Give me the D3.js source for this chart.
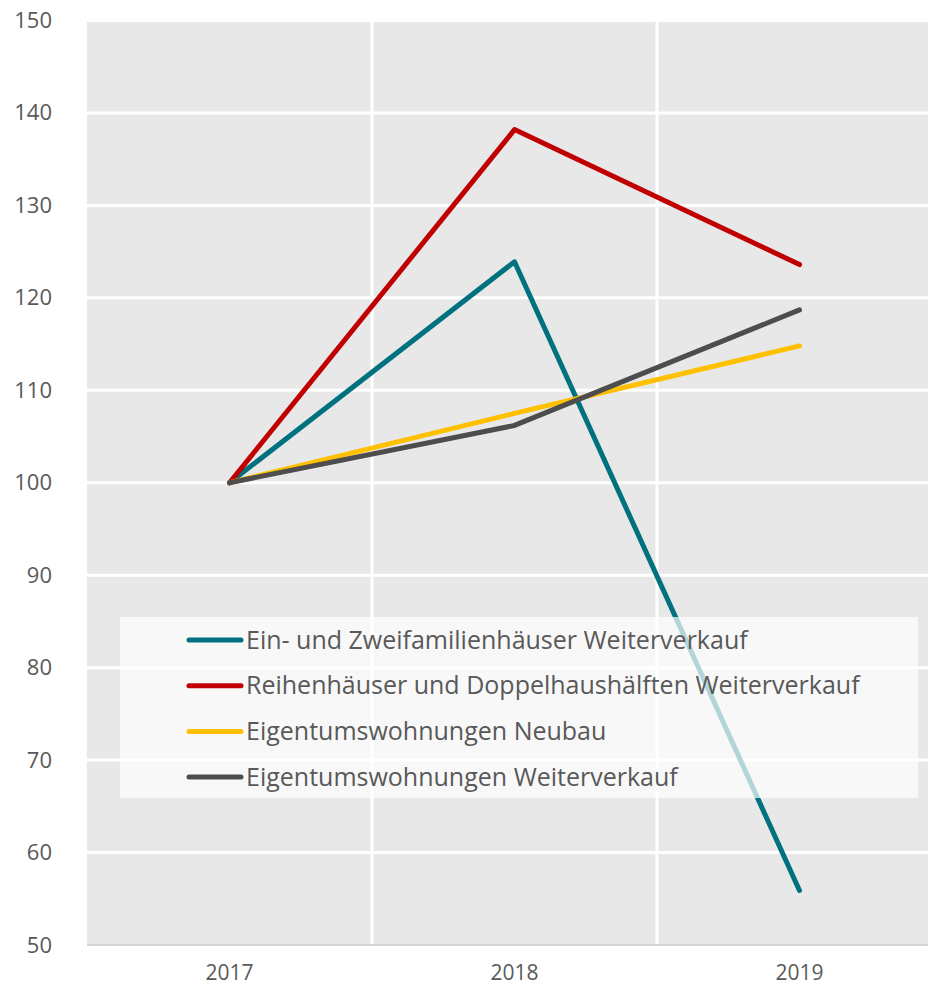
<!DOCTYPE html>
<html><head><meta charset="utf-8">
<script src="https://cdn.jsdelivr.net/npm/d3@7"></script>
<style>body{margin:0;background:#fff}svg{display:block}</style>
</head><body>
<svg id="c" width="928" height="991"></svg>
<script>
const years = ["2017","2018","2019"];
const seriesNames = [
  "Ein- und Zweifamilienhäuser Weiterverkauf",
  "Reihenhäuser und Doppelhaushälften Weiterverkauf",
  "Eigentumswohnungen Neubau",
  "Eigentumswohnungen Weiterverkauf"
];
const einZwei = [100, 123.9, 55.9];
const reihen = [100, 138.2, 123.6];
const etwNeu = [100, 107.5, 114.8];
const etwWeiter = [100, 106.2, 118.7];
const colors = ["#00717f", "#c00000", "#ffc000", "#4d4d4d"];
const yTicks = [50,60,70,80,90,100,110,120,130,140,150];

const values = [einZwei, reihen, etwNeu, etwWeiter];
const font = "'Open Sans', 'Noto Sans', sans-serif";
const svg = d3.select("#c");
const L = 87, R = 942, T = 20.5, B = 945;
const x = d3.scaleBand().domain(years).range([L, R]);
const y = d3.scaleLinear().domain([50,150]).range([B, T]);

svg.append("rect").attr("x", L).attr("y", T).attr("width", 928 - L).attr("height", B - T).attr("fill", "#e8e8e8");

svg.append("g").selectAll("line").data(yTicks.slice(1)).join("line")
  .attr("x1", L).attr("x2", 928).attr("y1", d => y(d)).attr("y2", d => y(d))
  .attr("stroke", "#fff").attr("stroke-width", 3);
svg.append("g").selectAll("line").data(years.slice(1)).join("line")
  .attr("x1", d => x(d)).attr("x2", d => x(d)).attr("y1", T).attr("y2", B)
  .attr("stroke", "#fff").attr("stroke-width", 3);
svg.append("line").attr("x1", L).attr("x2", 928).attr("y1", B).attr("y2", B)
  .attr("stroke", "#d6d6d6").attr("stroke-width", 2);

const yAxis = d3.axisLeft(y).tickValues(yTicks).tickSize(0).tickPadding(0);
const gy = svg.append("g").attr("transform", `translate(52,0)`).call(yAxis);
gy.select(".domain").remove();
gy.selectAll("text").attr("font-family", font).attr("font-size", 22).attr("fill", "#595959").attr("dy", "0.32em");

const xAxis = d3.axisBottom(x).tickSize(0).tickPadding(0);
const gx = svg.append("g").attr("transform", `translate(0,${B + 20})`).call(xAxis);
gx.select(".domain").remove();
gx.selectAll("text").attr("font-family", font).attr("font-size", 21).attr("fill", "#595959").attr("dy", "0.71em");

const line = d3.line().x((d, i) => x(years[i]) + x.bandwidth() / 2).y(d => y(d));
svg.append("g").selectAll("path").data(values).join("path")
  .attr("d", d => line(d)).attr("fill", "none")
  .attr("stroke", (d, i) => colors[i]).attr("stroke-width", 5)
  .attr("stroke-linecap", "round").attr("stroke-linejoin", "round");

const lg = svg.append("g");
lg.append("rect").attr("x", 120).attr("y", 617).attr("width", 798).attr("height", 181)
  .attr("fill", "#fff").attr("fill-opacity", 0.7);
const items = lg.selectAll("g.it").data(seriesNames).join("g").attr("class", "it")
  .attr("transform", (d, i) => `translate(0,${640 + i * 45.7})`);
items.append("line").attr("x1", 189).attr("x2", 241).attr("y1", 0).attr("y2", 0)
  .attr("stroke", (d, i) => colors[i]).attr("stroke-width", 5).attr("stroke-linecap", "round");
items.append("text").attr("x", 246).attr("y", 0).attr("dy", "0.35em")
  .attr("font-family", font).attr("font-size", 25).attr("fill", "#595959").text(d => d);
</script>
</body></html>
